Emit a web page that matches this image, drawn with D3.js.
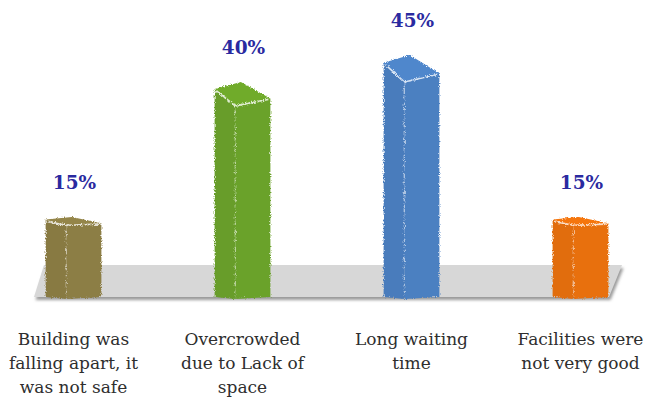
<!DOCTYPE html>
<html>
<head>
<meta charset="utf-8">
<script src="https://cdn.jsdelivr.net/npm/d3@7"></script>
<style>
  html, body { margin: 0; padding: 0; background: #ffffff; }
  svg { display: block; }
</style>
</head>
<body>
<script>
const categories = [
  "Building was falling apart, it was not safe",
  "Overcrowded due to Lack of space",
  "Long waiting time",
  "Facilities were not very good"
];
const labelLines = [
  ["Building was", "falling apart, it", "was not safe"],
  ["Overcrowded", "due to Lack of", "space"],
  ["Long waiting", "time"],
  ["Facilities were", "not very good"]
];
const values = [15, 40, 45, 15];
const valueLabels = ["15%", "40%", "45%", "15%"];
const colors = ["#8c7e45", "#6aa22a", "#4c80c1", "#e8700f"];

const W = 646, H = 398;
const base = 298;

const svg = d3.select("body").append("svg").attr("width", W).attr("height", H);
const defs = svg.append("defs");

const rough = defs.append("filter").attr("id", "rough")
  .attr("x", "-10%").attr("y", "-10%").attr("width", "120%").attr("height", "120%");
rough.append("feTurbulence").attr("type", "fractalNoise").attr("baseFrequency", "0.9")
  .attr("numOctaves", 2).attr("seed", 3).attr("result", "noise");
rough.append("feDisplacementMap").attr("in", "SourceGraphic").attr("in2", "noise")
  .attr("scale", 4).attr("xChannelSelector", "R").attr("yChannelSelector", "G");

const blur = defs.append("filter").attr("id", "blur")
  .attr("x", "-10%").attr("y", "-50%").attr("width", "120%").attr("height", "200%");
blur.append("feGaussianBlur").attr("stdDeviation", 1.6);

const x = d3.scaleBand().domain(categories).range([-11, 665])
  .paddingInner(0.67).paddingOuter(0.335);
const y = d3.scaleLinear().domain([0, 45]).range([base, 55]);

// floor
const floorPts = [[44, 265], [622, 265], [609, 297], [34, 297]];
svg.append("polygon")
  .attr("points", floorPts.map(p => [p[0] + 1.5, p[1] + 3].join(",")).join(" "))
  .attr("fill", "#9a9a9a").attr("filter", "url(#blur)");
svg.append("polygon")
  .attr("points", floorPts.map(p => p.join(",")).join(" "))
  .attr("fill", "#d7d7d7");

// bars
const bars = svg.append("g").attr("filter", "url(#rough)");
categories.forEach((c, i) => {
  const x0 = x(c), w = x.bandwidth();
  const yTop = y(values[i]);
  const d = (base - yTop) * 0.115;
  const lw = w * 0.37;
  const col = colors[i];
  const A = [x0, yTop + 0.28 * d];
  const B = [x0 + 0.47 * w, yTop];
  const C = [x0 + w, yTop + 0.66 * d];
  const D = [x0 + lw, yTop + d];
  const g = bars.append("g");
  g.append("polygon")
    .attr("points", [A, D, [x0 + lw, base + 1], [x0, base - 1]].map(p => p.join(",")).join(" "))
    .attr("fill", d3.color(col).darker(0.08));
  g.append("polygon")
    .attr("points", [D, C, [x0 + w, base - 1], [x0 + lw, base + 1]].map(p => p.join(",")).join(" "))
    .attr("fill", col);
  g.append("polygon")
    .attr("points", [A, B, C, D].map(p => p.join(",")).join(" "))
    .attr("fill", d3.color(col).brighter(0.15));
  g.append("polyline")
    .attr("points", [[A[0] + 2, A[1] + 2], [D[0], D[1] - 1], [C[0] - 2, C[1] + 1]].map(p => p.join(",")).join(" "))
    .attr("fill", "none").attr("stroke", "#ffffff").attr("stroke-opacity", 0.75)
    .attr("stroke-width", 1.6);
  g.append("line")
    .attr("x1", D[0]).attr("y1", D[1] + 4).attr("x2", D[0]).attr("y2", base - 4)
    .attr("stroke", "#ffffff").attr("stroke-opacity", 0.45)
    .attr("stroke-width", 1.4).attr("stroke-dasharray", "6 4 2 5");
});

// value labels
svg.append("g").selectAll("text").data(categories).join("text")
  .attr("x", c => x(c) + x.bandwidth() / 2 + 1)
  .attr("y", (c, i) => y(values[i]) - 28)
  .attr("text-anchor", "middle")
  .attr("font-family", "'DejaVu Serif', serif")
  .attr("font-weight", "bold")
  .attr("font-size", 18.5)
  .attr("fill", "#2a2aa0")
  .text((c, i) => valueLabels[i]);

// category labels
const cat = svg.append("g");
categories.forEach((c, i) => {
  const cx = x(c) + x.bandwidth() / 2;
  const t = cat.append("text")
    .attr("x", cx)
    .attr("y", 345)
    .attr("text-anchor", "middle")
    .attr("font-family", "'DejaVu Serif', serif")
    .attr("font-size", 17)
    .attr("fill", "#2e2e2e");
  labelLines[i].forEach((ln, j) => {
    t.append("tspan").attr("x", cx)
      .attr("dy", j === 0 ? 0 : 24).text(ln);
  });
});
</script>
</body>
</html>
